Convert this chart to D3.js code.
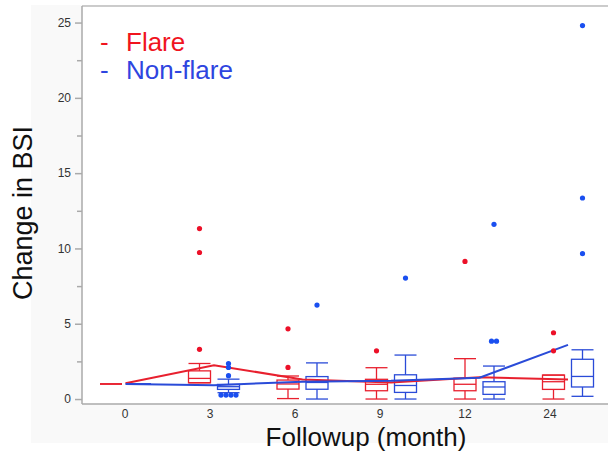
<!DOCTYPE html>
<html>
<head>
<meta charset="utf-8">
<script src="https://cdn.jsdelivr.net/npm/d3@7"></script>
<style>
  body { margin: 0; background: #fff; }
  svg { display: block; font-family: "Liberation Sans", Arial, sans-serif; }
  .axis text { fill: #333; font-size: 12px; }
  .axis path, .axis line { stroke: #aaa; stroke-width: 1.5; }
</style>
</head>
<body>
<div id="chart"></div>
<script>
// months on the x axis
var months = ["0", "3", "6", "9", "12", "24"];
var groups = ["Flare", "Non-flare"];

// box stats per month: [low whisker, q1, median, q3, high whisker]
var flareBoxes = [
  [1, 1, 1, 1, 1],
  [1.08, 1.08, 1.37, 1.87, 2.36],
  [0.03, 0.66, 1.0, 1.26, 1.53],
  [0, 0.55, 0.98, 1.31, 2.08],
  [0, 0.55, 0.98, 1.38, 2.68],
  [0, 0.64, 1.15, 1.59, 1.59]
];
var nonflareBoxes = [
  [1, 1, 1, 1, 1],
  [0.42, 0.64, 0.82, 0.97, 1.32],
  [0, 0.65, 1.1, 1.49, 2.4],
  [0, 0.44, 0.9, 1.61, 2.92],
  [0, 0.31, 0.8, 1.15, 2.19],
  [0.18, 0.8, 1.5, 2.64, 3.27]
];

// outliers: [month, value]
var flareOutliers = [
  ["3", 3.3], ["3", 9.73], ["3", 11.32],
  ["6", 2.1], ["6", 4.66],
  ["9", 3.2],
  ["12", 9.14],
  ["24", 3.2], ["24", 4.4]
];
var nonflareOutliers = [
  ["3", 0.26], ["3", 0.26], ["3", 0.26], ["3", 0.26],
  ["3", 1.55], ["3", 2.1], ["3", 2.36],
  ["6", 6.24],
  ["9", 8.03],
  ["12", 3.84], ["12", 3.84], ["12", 11.6],
  ["24", 9.65], ["24", 13.35], ["24", 24.8]
];

// mean lines
var flareMeans = [1.05, 2.25, 1.3, 1.1, 1.45, 1.3];
var nonflareMeans = [1.0, 0.92, 1.15, 1.22, 1.42, 3.6];

var yTicks = [0, 5, 10, 15, 20, 25];
var yMinor = [2.5, 7.5, 12.5, 17.5, 22.5];

var red = "#e8202e", blue = "#2a4bd8";
var redDot = "#ec1028", blueDot = "#1a4ff0";

var width = 608, height = 454;
var plot = {left: 82, top: 6, right: 608, bottom: 404};

var svg = d3.select("#chart").append("svg")
  .attr("width", width)
  .attr("height", height);

// grey panel + white plot area
svg.append("rect")
  .attr("x", 31).attr("y", 5)
  .attr("width", width - 31).attr("height", 438)
  .attr("fill", "#f9f9f9");
svg.append("rect")
  .attr("x", plot.left).attr("y", plot.top)
  .attr("width", plot.right - plot.left).attr("height", plot.bottom - plot.top)
  .attr("fill", "#fff");

var y = d3.scaleLinear().domain([-0.33, 26.1]).range([plot.bottom, plot.top]);

// axis labels sit on a slightly narrower band than the plotted groups
var xAxisScale = d3.scaleBand().domain(months).range([82.5, 592.5]);
var xGroup = d3.scalePoint().domain(months).range([125.5, 568]);
var xSide = d3.scaleBand().domain(groups).range([-29, 29]);
var boxW = 22;

// frame lines
svg.append("line")
  .attr("x1", plot.left).attr("x2", plot.right)
  .attr("y1", plot.top).attr("y2", plot.top)
  .attr("stroke", "#bbb").attr("stroke-width", 1.5);
svg.append("line")
  .attr("x1", plot.left).attr("x2", plot.right)
  .attr("y1", plot.bottom).attr("y2", plot.bottom)
  .attr("stroke", "#aaa").attr("stroke-width", 1.5);

var yAxis = svg.append("g")
  .attr("class", "axis")
  .attr("transform", `translate(${plot.left},0)`)
  .call(d3.axisLeft(y).tickValues(yTicks).tickSize(7).tickSizeOuter(0).tickPadding(4));
yAxis.select(".domain").attr("d", `M0,${plot.top}V${plot.bottom}`);

svg.append("g")
  .attr("class", "axis")
  .attr("transform", `translate(${plot.left},0)`)
  .call(d3.axisLeft(y).tickValues(yMinor).tickSize(5).tickFormat(""))
  .select(".domain").remove();

var xAxis = svg.append("g")
  .attr("class", "axis")
  .attr("transform", `translate(0,${plot.bottom})`)
  .call(d3.axisBottom(xAxisScale).tickSize(0).tickPadding(5));
xAxis.select(".domain").remove();

// boxes
function drawBoxes(boxes, group, color) {
  var g = svg.append("g")
    .attr("fill", "none")
    .attr("stroke", color)
    .attr("stroke-width", 1.3);
  var b = g.selectAll("g")
    .data(boxes)
    .enter()
    .append("g")
    .attr("transform", (d, i) => `translate(${xGroup(months[i]) + xSide(group) + xSide.bandwidth() / 2},0)`);
  // whiskers
  b.append("line").attr("x1", 0).attr("x2", 0)
    .attr("y1", d => y(d[0])).attr("y2", d => y(d[1]));
  b.append("line").attr("x1", 0).attr("x2", 0)
    .attr("y1", d => y(d[3])).attr("y2", d => y(d[4]));
  b.append("line").attr("x1", -boxW / 2).attr("x2", boxW / 2)
    .attr("y1", d => y(d[0])).attr("y2", d => y(d[0]));
  b.append("line").attr("x1", -boxW / 2).attr("x2", boxW / 2)
    .attr("y1", d => y(d[4])).attr("y2", d => y(d[4]));
  b.append("rect")
    .attr("x", -boxW / 2).attr("width", boxW)
    .attr("y", d => y(d[3]))
    .attr("height", d => y(d[1]) - y(d[3]));
  b.append("line").attr("x1", -boxW / 2).attr("x2", boxW / 2)
    .attr("y1", d => y(d[2])).attr("y2", d => y(d[2]));
}
drawBoxes(flareBoxes, "Flare", red);
drawBoxes(nonflareBoxes, "Non-flare", blue);

// mean lines
var line = d3.line()
  .x((d, i) => xGroup(months[i]))
  .y(d => y(d));
svg.append("path").datum(flareMeans)
  .attr("d", line).attr("fill", "none")
  .attr("stroke", red).attr("stroke-width", 2);
svg.append("path").datum(nonflareMeans)
  .attr("d", line).attr("fill", "none")
  .attr("stroke", blue).attr("stroke-width", 2);

// outliers, identical values spread sideways
function drawOutliers(points, group, color) {
  var counts = d3.rollup(points, v => v.length, d => d[0] + "|" + d[1]);
  var seen = new Map();
  svg.append("g").selectAll("circle")
    .data(points)
    .enter()
    .append("circle")
    .attr("r", 2.6)
    .attr("fill", color)
    .attr("cx", d => {
      var key = d[0] + "|" + d[1];
      var k = seen.get(key) || 0;
      seen.set(key, k + 1);
      var n = counts.get(key);
      return xGroup(d[0]) + xSide(group) + xSide.bandwidth() / 2 + (k - (n - 1) / 2) * 5;
    })
    .attr("cy", d => y(d[1]));
}
drawOutliers(flareOutliers, "Flare", redDot);
drawOutliers(nonflareOutliers, "Non-flare", blueDot);

// legend
var legend = svg.append("g").attr("font-size", 26);
groups.forEach(function(name, i) {
  var c = i === 0 ? "#f0141e" : "#2e45e0";
  legend.append("text").attr("x", 100).attr("y", 51 + i * 28)
    .attr("fill", c).text("-");
  legend.append("text").attr("x", 126).attr("y", 51 + i * 28)
    .attr("fill", c).text(name);
});

// axis titles
svg.append("text")
  .attr("x", 366).attr("y", 446)
  .attr("text-anchor", "middle")
  .attr("font-size", 26)
  .attr("fill", "#111")
  .text("Followup (month)");
svg.append("text")
  .attr("transform", "translate(32,213) rotate(-90)")
  .attr("text-anchor", "middle")
  .attr("font-size", 27)
  .attr("fill", "#111")
  .text("Change in BSI");
</script>
</body>
</html>
